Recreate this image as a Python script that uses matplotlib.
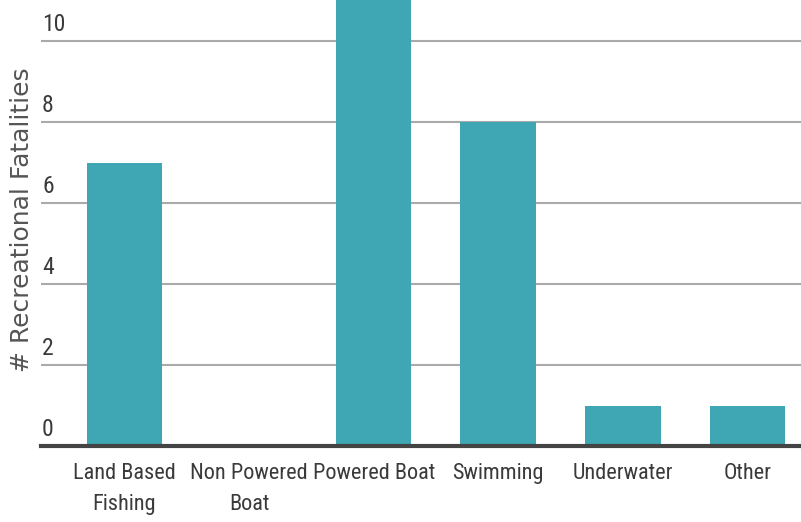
import matplotlib.pyplot as plt

categories = ["Land Based\nFishing", "Non Powered\nBoat", "Powered Boat", "Swimming", "Underwater", "Other"]
fatalities = [7, 0, 12, 8, 1, 1]
yticks = [0, 2, 4, 6, 8, 10]

cond = ['Roboto Condensed', 'DejaVu Sans']
txt = '#3a3a3a'

fig = plt.figure(figsize=(8.01, 5.22), dpi=100)
ax = fig.add_axes([41/801, 76/522, 760/801, 446/522])

x = range(len(categories))
ax.bar(x, fatalities, width=0.607, color='#3fa6b3', zorder=2)

ax.set_xlim(-0.67, 5.43)
ax.set_ylim(0, 446/40.45)

# gridlines + labels sitting above them
for v in yticks:
    if v > 0:
        ax.axhline(v, color='#aaaaaa', lw=1.5, zorder=1)
    ax.annotate(str(v), xy=(0, v), xycoords=('axes fraction', 'data'),
                xytext=(1, 10), textcoords='offset pixels', ha='left', va='baseline',
                fontsize=17, family=cond, color=txt)

for s in ['top', 'right', 'left']:
    ax.spines[s].set_visible(False)
ax.spines['bottom'].set_linewidth(3)
ax.spines['bottom'].set_color('#444444')
ax.spines['bottom'].set_zorder(3)

ax.set_yticks([])
ax.set_xticks(list(x))
ax.set_xticklabels(categories, fontsize=16, family=cond, color=txt, linespacing=1.65)
ax.tick_params(axis='x', length=0, pad=12)

fig.text(0.028, 1 - 220/522, "# Recreational Fatalities", rotation=90,
         ha='center', va='center', fontsize=18, color='#555555', family='DejaVu Sans')

fig.savefig('out.png', dpi=100)
